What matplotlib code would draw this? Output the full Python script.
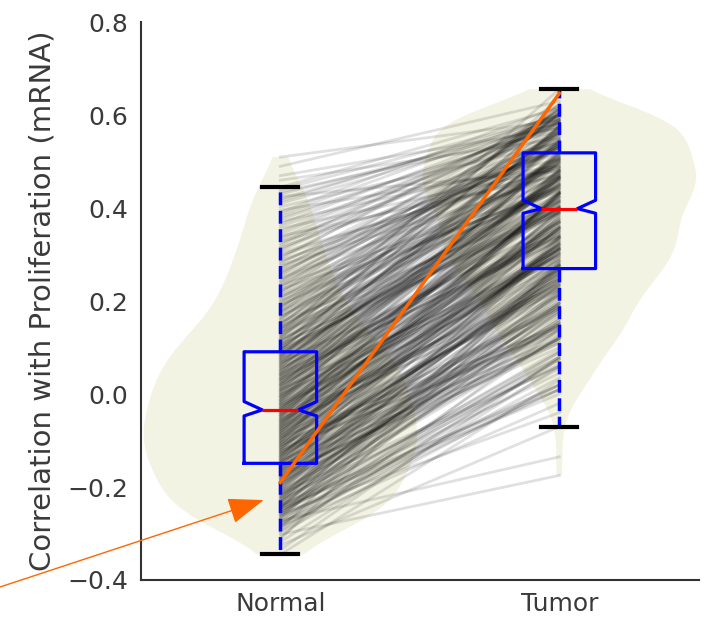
import matplotlib
matplotlib.use('Agg')
import matplotlib.pyplot as plt

categories = ['Normal', 'Tumor']

# paired values (Normal -> Tumor), one line per pair, first batch
normal_a = [
    -0.345, -0.325, -0.312, -0.302, -0.295, -0.289, -0.284, -0.280, -0.276, -0.272,
    -0.268, -0.264, -0.261, -0.258, -0.255, -0.252, -0.249, -0.246, -0.244, -0.242,
    -0.240, -0.237, -0.234, -0.231, -0.228, -0.225, -0.222, -0.219, -0.216, -0.213,
    -0.210, -0.207, -0.203, -0.199, -0.196, -0.193, -0.190, -0.188, -0.185, -0.182,
    -0.180, -0.177, -0.174, -0.171, -0.168, -0.166, -0.163, -0.160, -0.157, -0.155,
    -0.152, -0.149, -0.146, -0.144, -0.141, -0.139, -0.136, -0.134, -0.131, -0.129,
    -0.126, -0.124, -0.121, -0.119, -0.116, -0.114, -0.111, -0.109, -0.106, -0.104,
    -0.101, -0.099, -0.096, -0.094, -0.091, -0.089, -0.086, -0.084, -0.081, -0.079,
    -0.076, -0.074, -0.071, -0.069, -0.066, -0.064, -0.061, -0.059, -0.056, -0.054,
    -0.051, -0.048, -0.046, -0.043, -0.040, -0.038, -0.035, -0.033, -0.030, -0.028,
    -0.025, -0.022, -0.020, -0.017, -0.014, -0.012, -0.009, -0.006, -0.004, -0.001,
    0.002, 0.005, 0.008, 0.010, 0.013, 0.016, 0.019, 0.021, 0.024, 0.027,
    0.030, 0.032, 0.035, 0.038, 0.041, 0.043, 0.046, 0.049, 0.052, 0.055,
    0.058, 0.061, 0.064, 0.067, 0.070, 0.073, 0.076, 0.079, 0.082, 0.085,
    0.088, 0.091, 0.094, 0.097, 0.099, 0.102, 0.106, 0.110, 0.114, 0.118,
    0.121, 0.125, 0.129, 0.133, 0.137, 0.141, 0.144, 0.148, 0.153, 0.158,
    0.163, 0.168, 0.173, 0.178, 0.183, 0.188, 0.193, 0.198, 0.204, 0.210,
    0.216, 0.222, 0.228, 0.234, 0.240, 0.246, 0.253, 0.260, 0.267, 0.274,
    0.281, 0.288, 0.295, 0.304, 0.312, 0.320, 0.328, 0.336, 0.344, 0.356,
    0.366, 0.376, 0.386, 0.396, 0.410, 0.420, 0.430, 0.440, 0.470, 0.510,
]
tumor_a = [
    0.030, -0.070, 0.271, -0.175, 0.075, 0.280, -0.020, 0.055, 0.090, -0.135,
    0.274, 0.010, 0.283, -0.040, 0.065, 0.095, 0.045, 0.277, 0.000, 0.080,
    0.190, 0.165, 0.326, 0.155, 0.210, 0.334, 0.175, 0.200, 0.216, 0.160,
    0.329, 0.185, 0.337, 0.170, 0.205, 0.220, 0.195, 0.332, 0.180, 0.213,
    0.248, 0.115, 0.377, 0.100, 0.259, 0.385, 0.125, 0.253, 0.265, 0.110,
    0.380, 0.245, 0.387, 0.120, 0.256, 0.268, 0.250, 0.382, 0.242, 0.262,
    0.305, 0.140, 0.426, 0.130, 0.316, 0.433, 0.150, 0.310, 0.321, 0.135,
    0.429, 0.303, 0.436, 0.145, 0.313, 0.324, 0.308, 0.431, 0.300, 0.318,
    0.357, 0.231, 0.473, 0.224, 0.367, 0.480, 0.238, 0.362, 0.372, 0.228,
    0.475, 0.355, 0.482, 0.235, 0.365, 0.375, 0.360, 0.477, 0.352, 0.370,
    0.407, 0.292, 0.517, 0.286, 0.417, 0.523, 0.298, 0.412, 0.421, 0.289,
    0.519, 0.405, 0.525, 0.295, 0.414, 0.424, 0.410, 0.521, 0.402, 0.419,
    0.454, 0.345, 0.566, 0.340, 0.464, 0.574, 0.350, 0.459, 0.468, 0.342,
    0.568, 0.452, 0.576, 0.348, 0.461, 0.470, 0.457, 0.571, 0.450, 0.466,
    0.500, 0.395, 0.605, 0.390, 0.508, 0.638, 0.400, 0.504, 0.513, 0.392,
    0.615, 0.498, 0.656, 0.397, 0.506, 0.515, 0.502, 0.625, 0.495, 0.510,
    0.532, 0.443, 0.553, 0.438, 0.540, 0.560, 0.448, 0.536, 0.545, 0.440,
    0.555, 0.530, 0.563, 0.445, 0.538, 0.550, 0.534, 0.558, 0.527, 0.543,
    0.579, 0.489, 0.595, 0.484, 0.587, 0.600, 0.493, 0.583, 0.590, 0.486,
    0.596, 0.578, 0.603, 0.491, 0.584, 0.592, 0.582, 0.598, 0.572, 0.589,
]

# second batch of pairs
normal_b = [
    -0.335, -0.318, -0.307, -0.298, -0.292, -0.286, -0.282, -0.278, -0.274, -0.270,
    -0.266, -0.262, -0.259, -0.256, -0.253, -0.250, -0.247, -0.245, -0.243, -0.241,
    -0.238, -0.235, -0.232, -0.229, -0.226, -0.223, -0.220, -0.217, -0.214, -0.211,
    -0.208, -0.205, -0.201, -0.197, -0.194, -0.191, -0.189, -0.186, -0.183, -0.181,
    -0.178, -0.175, -0.172, -0.169, -0.167, -0.164, -0.161, -0.158, -0.156, -0.153,
    -0.150, -0.147, -0.145, -0.142, -0.140, -0.137, -0.135, -0.132, -0.130, -0.127,
    -0.125, -0.122, -0.120, -0.117, -0.115, -0.112, -0.110, -0.107, -0.105, -0.102,
    -0.100, -0.097, -0.095, -0.092, -0.090, -0.087, -0.085, -0.082, -0.080, -0.077,
    -0.075, -0.072, -0.070, -0.067, -0.065, -0.062, -0.060, -0.057, -0.055, -0.052,
    -0.050, -0.047, -0.044, -0.042, -0.039, -0.036, -0.034, -0.031, -0.029, -0.026,
    -0.023, -0.021, -0.018, -0.015, -0.013, -0.010, -0.007, -0.005, -0.002, 0.000,
    0.003, 0.006, 0.009, 0.011, 0.014, 0.017, 0.020, 0.022, 0.025, 0.028,
    0.031, 0.033, 0.036, 0.039, 0.042, 0.044, 0.047, 0.050, 0.053, 0.056,
    0.059, 0.062, 0.065, 0.068, 0.071, 0.074, 0.077, 0.080, 0.083, 0.086,
    0.089, 0.092, 0.095, 0.098, 0.100, 0.104, 0.108, 0.112, 0.116, 0.119,
    0.123, 0.127, 0.131, 0.135, 0.139, 0.142, 0.146, 0.150, 0.155, 0.160,
    0.165, 0.170, 0.175, 0.180, 0.185, 0.190, 0.195, 0.201, 0.207, 0.213,
    0.219, 0.225, 0.231, 0.237, 0.243, 0.249, 0.256, 0.263, 0.270, 0.277,
    0.284, 0.291, 0.299, 0.308, 0.316, 0.324, 0.332, 0.340, 0.350, 0.361,
    0.371, 0.381, 0.391, 0.403, 0.415, 0.425, 0.435, 0.445, 0.460, 0.490,
]
tumor_b = [
    0.080, 0.060, 0.140, 0.020, 0.075, 0.035, 0.125, 0.010, 0.180, 0.075,
    0.220, 0.020, 0.155, 0.080, 0.195, 0.020, 0.150, 0.090, 0.260, 0.140,
    0.010, 0.225, 0.120, 0.265, 0.060, 0.195, 0.120, 0.235, 0.060, 0.185,
    0.120, 0.285, 0.160, 0.275, 0.150, 0.315, 0.110, 0.233, 0.146, 0.270,
    0.294, 0.118, 0.241, 0.175, 0.338, 0.212, 0.325, 0.198, 0.360, 0.153,
    0.276, 0.189, 0.312, 0.145, 0.358, 0.251, 0.394, 0.187, 0.320, 0.243,
    0.236, 0.399, 0.192, 0.315, 0.228, 0.350, 0.183, 0.395, 0.288, 0.430,
    0.223, 0.356, 0.278, 0.391, 0.214, 0.336, 0.269, 0.432, 0.304, 0.417,
    0.430, 0.322, 0.465, 0.258, 0.390, 0.312, 0.425, 0.247, 0.370, 0.302,
    0.465, 0.337, 0.450, 0.322, 0.485, 0.277, 0.400, 0.312, 0.435, 0.267,
    0.280, 0.402, 0.335, 0.497, 0.370, 0.482, 0.355, 0.517, 0.310, 0.432,
    0.344, 0.467, 0.299, 0.511, 0.404, 0.546, 0.339, 0.471, 0.393, 0.506,
    0.548, 0.340, 0.463, 0.375, 0.498, 0.330, 0.542, 0.434, 0.577, 0.369,
    0.501, 0.424, 0.536, 0.358, 0.480, 0.413, 0.575, 0.447, 0.560, 0.432,
    0.464, 0.606, 0.399, 0.531, 0.453, 0.565, 0.388, 0.510, 0.442, 0.604,
    0.476, 0.588, 0.460, 0.623, 0.415, 0.537, 0.449, 0.571, 0.403, 0.615,
    0.537, 0.470, 0.612, 0.504, 0.616, 0.488, 0.575, 0.443, 0.565, 0.480,
    0.603, 0.435, 0.590, 0.540, 0.595, 0.476, 0.608, 0.531, 0.585, 0.466,
    0.530, 0.610, 0.490, 0.585, 0.520, 0.600, 0.545, 0.470, 0.590, 0.560,
    0.505, 0.575, 0.620, 0.540, 0.600, 0.480, 0.565, 0.615, 0.550, 0.630,
]

# highlighted pair
highlight_normal = -0.19
highlight_tumor = 0.647

# box statistics (Normal, Tumor)
box_q1 = [-0.149, 0.270]
box_med = [-0.034, 0.399]
box_q3 = [0.091, 0.519]
box_cilo = [-0.047, 0.389]
box_cihi = [-0.016, 0.417]
whisker_lo = [-0.343, -0.071]
whisker_hi = [0.445, 0.656]

yticks = [-0.4, -0.2, 0.0, 0.2, 0.4, 0.6, 0.8]
ylabel = 'Correlation with Proliferation (mRNA)'

text_color = '#3a3a3a'
orange = '#ff6600'

normal = normal_a + normal_b
tumor = tumor_a + tumor_b

fig = plt.figure(figsize=(7.08, 6.18), dpi=100)
ax = fig.add_axes([0.199, 0.0615, 0.788, 0.9025])
positions = [1, 2]

parts = ax.violinplot([normal, tumor], positions=positions, widths=0.98,
                      showextrema=False, showmeans=False, showmedians=False,
                      bw_method=0.25)
for body in parts['bodies']:
    body.set_facecolor('#f3f3e4')
    body.set_edgecolor('none')
    body.set_alpha(1)
    body.set_zorder(1)

for n, t in zip(normal, tumor):
    ax.plot(positions, [n, t], color='k', alpha=0.12, lw=2.0, zorder=2)

stats = []
for i in range(2):
    stats.append(dict(med=box_med[i], q1=box_q1[i], q3=box_q3[i],
                      whislo=whisker_lo[i], whishi=whisker_hi[i],
                      cilo=box_cilo[i], cihi=box_cihi[i], fliers=[]))
ax.bxp(stats, positions=positions, widths=0.26, shownotches=True,
       showfliers=False, manage_ticks=False, zorder=3,
       boxprops=dict(color='b', lw=2.3),
       medianprops=dict(color='r', lw=2.3),
       whiskerprops=dict(color='b', lw=2.5, ls='--'),
       capprops=dict(color='k', lw=3))

ax.plot(positions, [highlight_normal, highlight_tumor], color=orange, lw=2.5, zorder=4)

ax.annotate('', xy=(0.94, -0.228), xytext=(-0.04, -0.422),
            arrowprops=dict(arrowstyle='-|>,head_length=1.5,head_width=0.55',
                            color=orange, lw=1, mutation_scale=15,
                            shrinkA=0, shrinkB=0),
            annotation_clip=False, zorder=5)

ax.set_xlim(0.5, 2.5)
ax.set_ylim(-0.4, 0.8)
ax.set_xticks(positions)
ax.set_xticklabels(categories)
ax.set_yticks(yticks)
ax.tick_params(length=0, labelsize=18, colors=text_color, pad=9)
ax.set_ylabel(ylabel, fontsize=21, color=text_color, labelpad=8)
for side in ['top', 'right']:
    ax.spines[side].set_visible(False)
for side in ['left', 'bottom']:
    ax.spines[side].set_color('#333333')
    ax.spines[side].set_linewidth(1.5)

fig.savefig('out.png', dpi=100)
